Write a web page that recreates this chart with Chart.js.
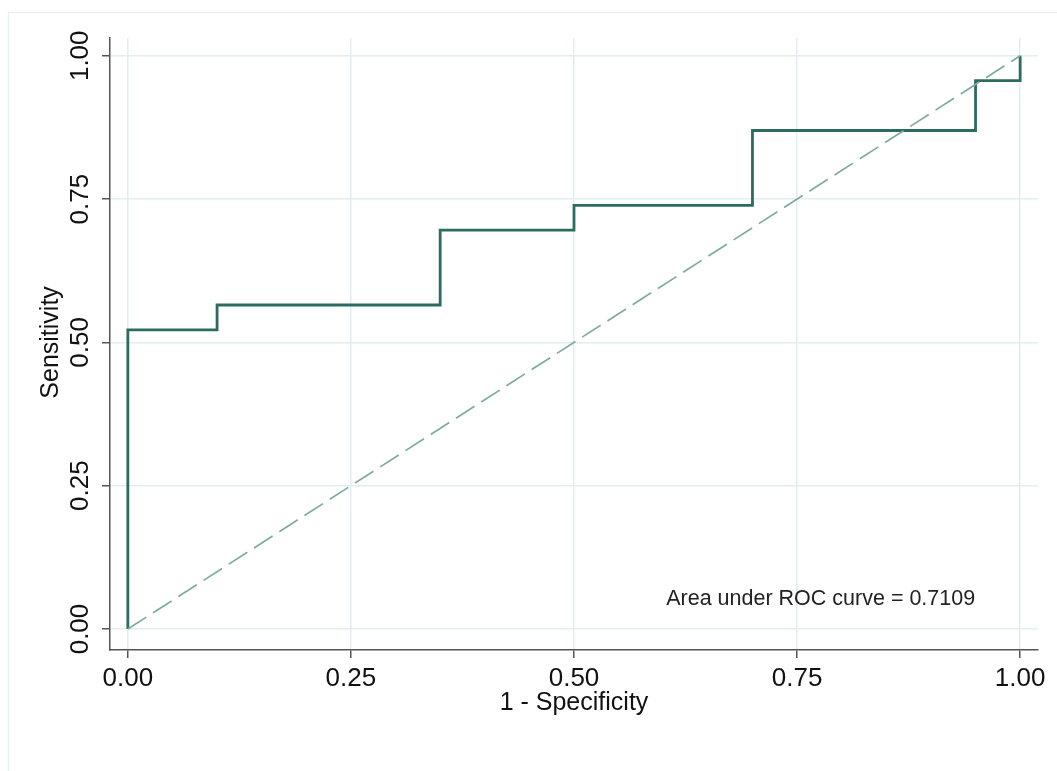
<!DOCTYPE html>
<html>
<head>
<meta charset="utf-8">
<script src="https://cdn.jsdelivr.net/npm/chart.js@4.4.1/dist/chart.umd.min.js"></script>
<style>
  html, body { margin: 0; padding: 0; background: #fff; }
  #wrap { position: relative; width: 1057px; height: 771px; }
</style>
</head>
<body>
<div id="wrap"><canvas id="roc"></canvas></div>
<script>
// ── ROC data ──
const fpr = [0, 0, 0.10, 0.10, 0.35, 0.35, 0.50, 0.50, 0.70, 0.70, 0.95, 0.95, 1.00, 1.00];
const tpr = [0, 0.5217, 0.5217, 0.5652, 0.5652, 0.6957, 0.6957, 0.7391, 0.7391, 0.8696, 0.8696, 0.9565, 0.9565, 1.00];
const refX = [0, 1];
const refY = [0, 1];
const tickVals = [0, 0.25, 0.5, 0.75, 1];
const tickLabels = ['0.00', '0.25', '0.50', '0.75', '1.00'];
const xTitle = '1 - Specificity';
const yTitle = 'Sensitivity';
const aucText = 'Area under ROC curve = 0.7109';

const FONT = '"Liberation Sans", Arial, sans-serif';
const GRID = '#e2eef0';
const AXIS = '#555555';

const pts = (xs, ys) => xs.map((x, i) => ({ x: x, y: ys[i] }));

// frame, rotated y labels, titles, AUC note
const extras = {
  id: 'extras',
  beforeDraw(chart) {
    const c = chart.ctx;
    c.save();
    c.fillStyle = '#fff';
    c.fillRect(0, 0, chart.width, chart.height);
    c.strokeStyle = '#e8f0f1';
    c.lineWidth = 1.5;
    c.strokeRect(8.5, 12.5, 1200, 900);
    c.restore();
  },
  afterDraw(chart) {
    const c = chart.ctx, xs = chart.scales.x, ys = chart.scales.y;
    c.save();
    c.fillStyle = '#111';
    c.textAlign = 'center';
    c.textBaseline = 'middle';
    c.font = '26px ' + FONT;
    tickVals.forEach((v, i) => {
      c.save();
      c.translate(81, ys.getPixelForValue(v));
      c.rotate(-Math.PI / 2);
      c.fillText(tickLabels[i], 0, 0);
      c.restore();
    });
    c.font = '25px ' + FONT;
    c.save();
    c.translate(51, ys.getPixelForValue(0.5));
    c.rotate(-Math.PI / 2);
    c.fillText(yTitle, 0, 0);
    c.restore();
    c.fillText(xTitle, xs.getPixelForValue(0.5), 703);
    c.font = '21.5px ' + FONT;
    c.textAlign = 'left';
    c.fillStyle = '#222';
    c.fillText(aucText, xs.getPixelForValue(0.6) + 3, ys.getPixelForValue(0.05) - 1);
    c.restore();
  }
};

new Chart(document.getElementById('roc'), {
  type: 'scatter',
  data: {
    datasets: [
      { data: pts(fpr, tpr), showLine: true, borderColor: '#2c6c60', borderWidth: 2.8,
        pointRadius: 0, tension: 0, fill: false, order: 2 },
      { data: pts(refX, refY), showLine: true, borderColor: '#7fab9f', borderWidth: 1.7,
        borderDash: [22, 8], pointRadius: 0, fill: false, order: 1 }
    ]
  },
  options: {
    responsive: true, maintainAspectRatio: false, animation: false,
    layout: { padding: { top: 38, right: 19, left: 0, bottom: 0 } },
    plugins: { legend: { display: false }, tooltip: { enabled: false } },
    scales: {
      x: {
        type: 'linear', min: -0.02, max: 1.02,
        afterBuildTicks: s => { s.ticks = tickVals.map(v => ({ value: v })); },
        afterFit: s => { s.height = 121; },
        grid: { color: GRID, lineWidth: 1.5, tickColor: AXIS, tickLength: 8, tickWidth: 1.5 },
        border: { display: true, color: AXIS, width: 1.5 },
        ticks: { autoSkip: false, maxRotation: 0, padding: 5, color: '#111',
          font: { size: 26, family: FONT },
          callback: (v) => tickLabels[tickVals.indexOf(v)] }
      },
      y: {
        type: 'linear', min: -0.0366, max: 1.031,
        afterBuildTicks: s => { s.ticks = tickVals.map(v => ({ value: v })); },
        afterFit: s => { s.width = 110; },
        grid: { color: GRID, lineWidth: 1.5, tickColor: AXIS, tickLength: 8, tickWidth: 1.5 },
        border: { display: true, color: AXIS, width: 1.5 },
        ticks: { display: false }
      }
    }
  },
  plugins: [extras]
});
</script>
</body>
</html>
